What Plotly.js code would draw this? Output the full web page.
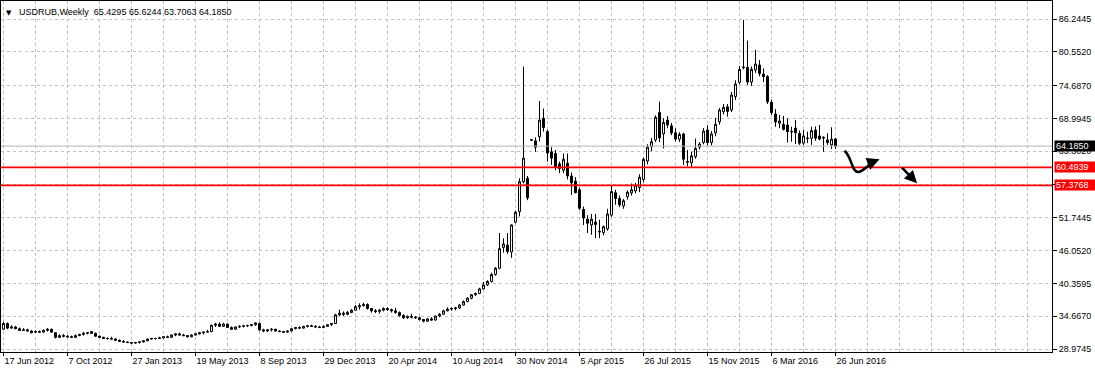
<!DOCTYPE html>
<html><head><meta charset="utf-8">
<script src="https://cdn.plot.ly/plotly-3.0.1.min.js"></script>
<style>html,body{margin:0;padding:0;background:#fff}#chart{width:1095px;height:372px}</style>
</head><body><div id="chart"></div>
<script>
const openP=[32.4,33.4,32.6,32.8,32.5,32.2,32.3,32.1,31.9,32.0,31.9,32.2,32.4,31.8,31.0,31.3,31.2,31.1,31.0,31.3,31.5,31.7,32.0,31.7,31.2,31.0,30.8,30.8,30.7,30.5,30.3,30.2,30.1,30.0,30.1,30.2,30.4,30.7,30.8,30.8,30.9,31.1,31.0,31.4,31.6,31.4,31.3,31.1,31.4,31.6,31.8,31.9,32.0,33.1,33.3,32.9,33.3,32.7,32.4,32.8,32.9,33.0,33.05,33.2,33.4,32.3,32.1,32.3,32.4,32.1,32.0,31.9,32.1,32.5,32.7,32.6,32.9,33.0,32.9,32.8,32.7,32.9,33.2,33.4,34.9,35.2,35.0,35.3,35.7,36.3,36.5,36.7,36.0,35.6,35.5,35.7,36.0,35.8,35.6,35.3,34.8,34.4,34.6,34.5,34.4,34.1,33.8,34.2,34.0,34.7,35.0,35.6,35.9,36.0,36.1,36.6,37.2,37.8,38.4,38.6,39.4,40.1,40.7,41.9,43.0,46.6,47.0,45.8,51.0,52.8,58.0,58.6,65.2,65.1,65.8,69.0,66.7,63.2,62.9,61.1,60.0,61.2,59.0,58.1,56.6,53.2,51.5,50.5,51.0,49.4,49.2,49.8,52.2,56.1,55.1,53.8,55.4,56.05,56.4,57.0,58.4,61.6,64.1,65.25,70.0,66.3,68.7,67.7,66.5,65.4,66.3,61.5,61.3,62.35,64.0,64.8,67.0,64.8,66.5,68.4,70.2,71.0,70.45,72.8,75.25,77.8,77.85,75.3,77.4,78.26,76.7,76.25,71.8,69.76,68.15,67.97,67.85,66.75,67.3,66.4,64.7,65.6,65.55,66.98,65.95,65.7,65.25,64.4,65.4295];
const highP=[33.7,33.6,33.1,33.0,32.7,32.6,32.5,32.2,32.2,32.2,32.4,32.6,32.5,31.9,31.5,31.6,31.4,31.3,31.5,31.6,31.9,31.9,32.1,31.8,31.3,31.1,31.0,31.1,30.9,30.6,30.5,30.3,30.2,30.2,30.3,30.5,30.8,30.9,30.9,31.1,31.2,31.3,31.5,31.7,31.8,31.6,31.4,31.5,31.7,31.9,32.0,32.3,33.2,33.5,33.6,33.5,33.4,32.9,32.9,33.1,33.1,33.2,33.3,33.6,33.6,32.5,32.4,32.6,32.5,32.2,32.1,32.2,32.6,32.8,32.9,33.0,33.1,33.2,33.1,33.0,33.1,33.3,33.5,35.1,35.8,35.5,35.6,35.9,36.6,36.9,37.0,36.9,36.1,35.9,35.9,36.2,36.2,36.0,36.1,35.5,35.0,34.8,35.1,34.7,34.6,34.2,34.3,34.5,34.8,35.2,35.8,36.2,36.2,36.3,36.8,37.4,38.0,38.5,38.8,39.6,40.6,40.9,42.2,43.2,49.1,48.2,49.1,50.6,53.0,58.6,78.0,59.0,65.3,65.7,72.0,70.7,67.0,64.0,63.5,61.5,62.9,62.9,59.6,58.8,57.0,53.7,52.2,52.4,52.4,51.4,50.4,53.3,57.4,56.6,55.6,55.0,56.5,57.7,57.8,59.3,62.2,64.5,65.6,69.5,71.9,69.0,69.4,68.2,67.3,66.6,66.5,63.5,63.2,65.5,64.9,67.3,67.8,66.8,69.1,70.8,71.5,71.5,73.6,75.6,78.1,86.1,82.5,78.0,80.9,79.1,77.7,76.5,72.2,70.6,69.6,69.4,69.0,67.55,68.7,66.9,67.0,66.7,67.55,67.6,67.85,65.9,66.4,67.45,65.6244];
const lowP=[32.3,32.4,32.5,32.4,32.1,32.1,32.0,31.7,31.8,31.8,31.8,32.0,31.8,30.8,30.9,31.0,30.9,30.9,30.9,31.2,31.3,31.5,31.6,31.1,30.9,30.7,30.6,30.6,30.4,30.2,30.1,30.0,29.9,29.9,29.9,30.1,30.3,30.6,30.6,30.7,30.8,30.9,30.9,31.2,31.3,31.2,31.0,31.0,31.3,31.5,31.5,31.8,31.9,32.8,32.8,32.8,32.6,32.3,32.3,32.6,32.7,32.8,32.9,33.0,32.1,31.9,31.9,32.0,32.0,31.9,31.8,31.8,32.0,32.4,32.5,32.5,32.7,32.8,32.7,32.6,32.6,32.8,33.0,33.3,34.7,34.7,34.8,35.2,35.6,35.8,36.3,35.8,35.3,35.2,35.1,35.5,35.6,35.3,35.1,34.6,34.2,34.2,34.3,34.2,33.9,33.6,33.7,33.9,33.9,34.5,34.9,35.5,35.6,35.7,35.9,36.5,37.1,37.6,38.2,38.5,39.3,39.9,40.5,41.7,42.8,45.7,45.5,44.8,50.8,52.0,57.7,54.8,65.1,63.2,65.0,66.7,61.5,60.9,60.0,59.5,59.5,58.4,55.7,56.0,53.1,50.5,49.1,48.8,48.2,48.2,48.7,49.5,51.9,54.0,53.6,53.3,54.9,55.6,56.0,56.2,57.9,61.0,63.3,64.9,64.9,63.8,67.3,66.1,65.0,64.9,60.9,60.7,60.6,62.0,63.6,64.5,64.3,64.3,65.9,67.9,69.7,69.3,70.1,72.2,74.9,77.5,74.8,74.6,76.9,76.3,75.3,71.5,69.6,67.55,67.3,66.9,64.8,64.95,64.55,64.4,64.4,64.7,64.4,65.1,65.2,63.2,64.4,63.7,63.7063];
const closeP=[33.4,32.6,32.8,32.5,32.2,32.3,32.1,31.8,32.0,31.9,32.2,32.4,31.9,31.0,31.3,31.2,31.1,31.0,31.3,31.5,31.7,31.8,31.7,31.2,31.0,30.8,30.8,30.7,30.5,30.3,30.2,30.1,30.0,30.1,30.2,30.4,30.7,30.8,30.8,30.9,31.1,31.0,31.4,31.6,31.4,31.3,31.1,31.4,31.6,31.8,31.9,32.0,33.1,33.3,32.9,33.3,32.7,32.4,32.8,32.9,33.0,33.05,33.2,33.5,32.3,32.1,32.3,32.4,32.1,32.0,31.9,32.1,32.5,32.7,32.6,32.9,33.0,32.9,32.8,32.7,32.9,33.2,33.4,34.9,35.2,35.0,35.3,35.7,36.3,36.5,36.7,36.0,35.6,35.5,35.7,36.0,35.8,35.6,35.3,34.8,34.4,34.6,34.5,34.4,34.1,33.8,34.2,34.0,34.7,35.0,35.6,35.9,36.0,36.1,36.6,37.2,37.8,38.4,38.6,39.4,40.1,40.7,41.9,43.0,46.4,47.2,45.9,50.5,52.7,58.0,62.1,55.2,65.3,64.0,68.7,67.4,63.0,62.1,60.6,60.3,61.9,59.0,57.8,56.1,53.4,51.7,50.8,51.5,50.6,49.3,50.2,52.4,56.3,55.1,54.0,54.7,56.2,56.6,57.4,58.8,61.9,64.0,64.95,69.2,65.6,68.3,67.85,66.5,65.4,66.2,61.9,61.4,62.5,63.8,64.55,66.8,64.8,66.3,67.97,70.45,70.9,70.2,73.05,74.96,77.5,77.9,75.3,77.5,78.43,76.8,76.25,71.9,70.0,68.4,68.55,67.1,66.7,66.65,66.5,64.7,65.95,65.5,66.86,65.55,65.4,65.6,64.8,65.4,64.1850];

const tickLabels=["17 Jun 2012","7 Oct 2012","27 Jan 2013","19 May 2013","8 Sep 2013","29 Dec 2013","20 Apr 2014","10 Aug 2014","30 Nov 2014","5 Apr 2015","26 Jul 2015","15 Nov 2015","6 Mar 2016","26 Jun 2016"];
const barsPerLabel=16;
const priceTicks=[28.9745,34.6670,40.3595,46.0520,51.7445,57.6095,63.3020,68.9945,74.6870,80.5520,86.2445];
const hiddenTicks=[57.6095];
const bidPrice=64.1850;
const levelPrices=[60.4939,57.3768];
const headerText="USDRUB,Weekly  65.4295 65.6244 63.7063 64.1850";

const idx=openP.map((_,i)=>i);
const tickVals=tickLabels.map((_,k)=>k*barsPerLabel);
const grid='#c0c0c0';
const fnt={family:'Liberation Sans, Arial, sans-serif',size:9,color:'#000'};

const trace={type:'candlestick',x:idx,open:openP,high:highP,low:lowP,close:closeP,
  increasing:{line:{color:'#000',width:1},fillcolor:'#fff'},
  decreasing:{line:{color:'#000',width:1},fillcolor:'#000'},
  whiskerwidth:0,hoverinfo:'skip',showlegend:false};

const shapes=[
  {type:'line',xref:'paper',x0:0,x1:1,yref:'y',y0:bidPrice,y1:bidPrice,line:{color:'#b4b4b4',width:1}},
  ...levelPrices.map(v=>({type:'line',xref:'paper',x0:0,x1:1,yref:'y',y0:v,y1:v,line:{color:'#ff0000',width:1.6}})),
  {type:'path',xref:'x',yref:'y',path:'M 210.25,63.39 C 212.2,62.2 212.0,59.6 213.75,59.7 C 215.0,59.8 216.2,60.9 217.3,61.35',line:{color:'#000',width:2.5}}
];

const annotations=[
  {xref:'paper',yref:'paper',x:0,y:1,xanchor:'left',yanchor:'top',xshift:3,yshift:-6,text:'▼',showarrow:false,font:{family:'DejaVu Sans',size:7,color:'#000'}},
  {xref:'paper',yref:'paper',x:0,y:1,xanchor:'left',yanchor:'top',xshift:16,yshift:-4,text:headerText.replace(/ /g,'&nbsp;'),showarrow:false,font:fnt},
  {xref:'paper',yref:'y',x:1,y:bidPrice,xanchor:'left',yanchor:'middle',xshift:2,text:bidPrice.toFixed(4),showarrow:false,bgcolor:'#000',font:{family:fnt.family,size:9,color:'#fff'},width:38,height:8,borderpad:1,align:'left'},
  ...levelPrices.map(v=>({xref:'paper',yref:'y',x:1,y:v,xanchor:'left',yanchor:'middle',xshift:2,text:v.toFixed(4),showarrow:false,bgcolor:'#ff0000',font:{family:fnt.family,size:9,color:'#fff'},width:38,height:8,borderpad:1,align:'left'})),
  {xref:'x',yref:'y',x:219,y:61.9,axref:'x',ayref:'y',ax:217,ay:61.35,showarrow:true,arrowhead:2,arrowsize:1,arrowwidth:2.5,arrowcolor:'#000',standoff:0,text:''},
  {xref:'x',yref:'y',x:228.4,y:57.73,axref:'x',ayref:'y',ax:224.25,ay:60.73,showarrow:true,arrowhead:2,arrowsize:1,arrowwidth:2.5,arrowcolor:'#000',standoff:0,text:''}
];

const layout={width:1095,height:372,margin:{l:1,r:43,t:1,b:20},paper_bgcolor:'#fff',plot_bgcolor:'#fff',
  font:fnt,showlegend:false,dragmode:false,
  xaxis:{range:[-0.625,262.125],tickmode:'array',tickvals:tickVals,ticktext:tickLabels,ticks:'outside',ticklen:3,tickcolor:'#000',
    showline:true,linecolor:'#000',linewidth:1,mirror:true,showgrid:true,gridcolor:grid,griddash:'3px,3px',zeroline:false,
    minor:{tickmode:'linear',tick0:0,dtick:8,showgrid:true,gridcolor:grid,griddash:'3px,3px',ticks:''},
    rangeslider:{visible:false},ticklabelposition:'outside right',tickfont:fnt,fixedrange:true},
  yaxis:{side:'right',range:[28.454,89.37],tickmode:'array',tickvals:priceTicks,
    ticktext:priceTicks.map(v=>hiddenTicks.includes(v)?'':v.toFixed(4)),
    ticks:'outside',ticklen:4,tickcolor:'#000',showline:true,linecolor:'#000',linewidth:1,mirror:true,showgrid:true,gridcolor:grid,griddash:'3px,3px',
    zeroline:false,tickfont:fnt,fixedrange:true},
  shapes:shapes,annotations:annotations};

Plotly.newPlot('chart',[trace],layout,{displayModeBar:false,staticPlot:true});
</script></body></html>
